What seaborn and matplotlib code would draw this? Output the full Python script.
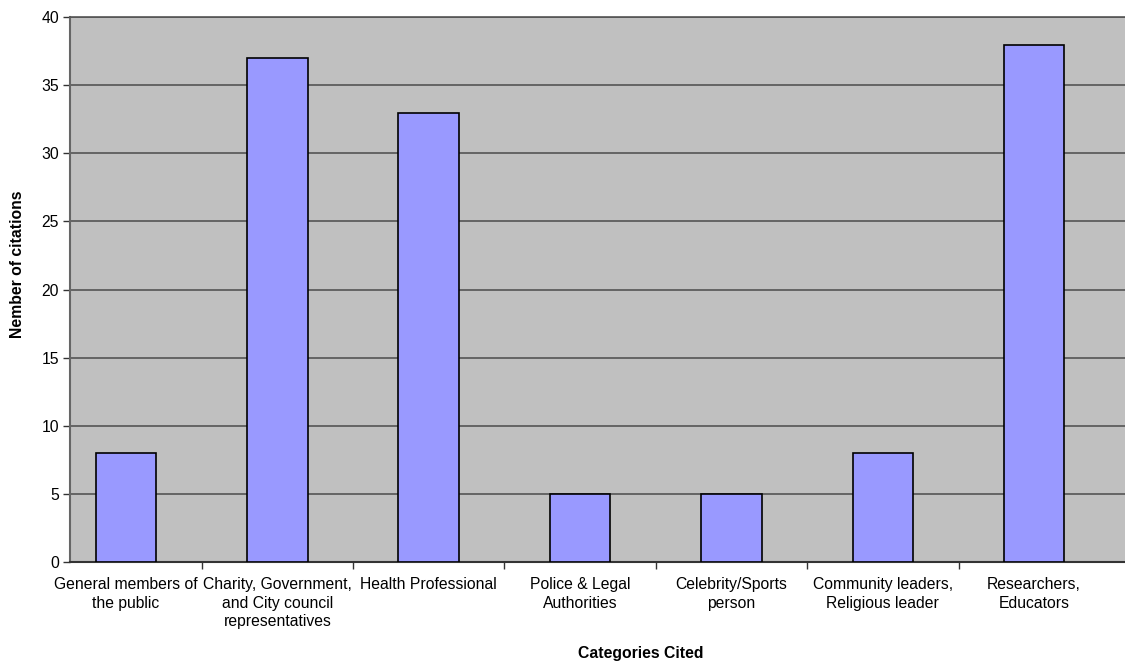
import matplotlib
matplotlib.use("Agg")
import matplotlib.pyplot as plt
import seaborn as sns
import pandas as pd
from matplotlib.ticker import FixedLocator

# Categories and citation counts
categories = [
    "General members of\nthe public",
    "Charity, Government,\nand City council\nrepresentatives",
    "Health Professional",
    "Police & Legal\nAuthorities",
    "Celebrity/Sports\nperson",
    "Community leaders,\nReligious leader",
    "Researchers,\nEducators",
]
citations = [8, 37, 33, 5, 5, 8, 38]
y_ticks = [0, 5, 10, 15, 20, 25, 30, 35, 40]

df = pd.DataFrame({"category": categories, "citations": citations})

sns.set_style("white")
plt.rcParams["font.family"] = ["Liberation Sans", "DejaVu Sans"]
plt.rcParams["text.color"] = "black"
plt.rcParams["axes.labelcolor"] = "black"

fig = plt.figure(figsize=(11.25, 6.64), dpi=100)
ax = fig.add_axes([70 / 1125, 1 - 561.7 / 664, 1 - 70 / 1125, (561.7 - 17.3) / 664])
ax.set_facecolor("#C0C0C0")

sns.barplot(data=df, x="category", y="citations", color="#9999FF",
            edgecolor="black", linewidth=1.2, width=0.4, saturation=1, ax=ax, zorder=3)

ax.set_ylim(0, 40)
ax.set_yticks(y_ticks)
ax.yaxis.grid(True, color="#555555", linewidth=1.2, zorder=0)
ax.set_axisbelow(True)
ax.set_xlim(-0.37, 6.60)

# labels centered under bars, ticks at category boundaries
ax.set_xticks(range(len(categories)))
ax.set_xticklabels(categories, fontsize=11.3, linespacing=1.3)
ax.tick_params(axis="x", which="major", length=0, pad=11, labelcolor="black")
ax.xaxis.set_minor_locator(FixedLocator([i + 0.5 for i in range(len(categories) - 1)]))
ax.tick_params(axis="x", which="minor", length=5, width=1, color="#333333", direction="out")
ax.tick_params(axis="y", length=5, width=1, color="#333333", direction="out",
               labelsize=11.3, pad=3, labelcolor="black")
ax.yaxis.set_ticks_position("left")
ax.xaxis.set_ticks_position("bottom")

ax.spines["right"].set_visible(False)
ax.spines["top"].set_color("#555555")
ax.spines["top"].set_linewidth(1.2)
ax.spines["left"].set_color("#666666")
ax.spines["left"].set_linewidth(1.5)
ax.spines["bottom"].set_color("#333333")
ax.spines["bottom"].set_linewidth(1.5)

ax.set_xlabel("Categories Cited", fontsize=11.3, fontweight="bold")
ax.set_ylabel("Nember of citations", fontsize=11.3, fontweight="bold")
ax.xaxis.set_label_coords(0.5412, -0.169)
ax.yaxis.set_label_coords(-0.0502, 0.5455)
ax.xaxis.label.set_va("center")
ax.yaxis.label.set_va("center")

fig.savefig("out.png", dpi=100)
